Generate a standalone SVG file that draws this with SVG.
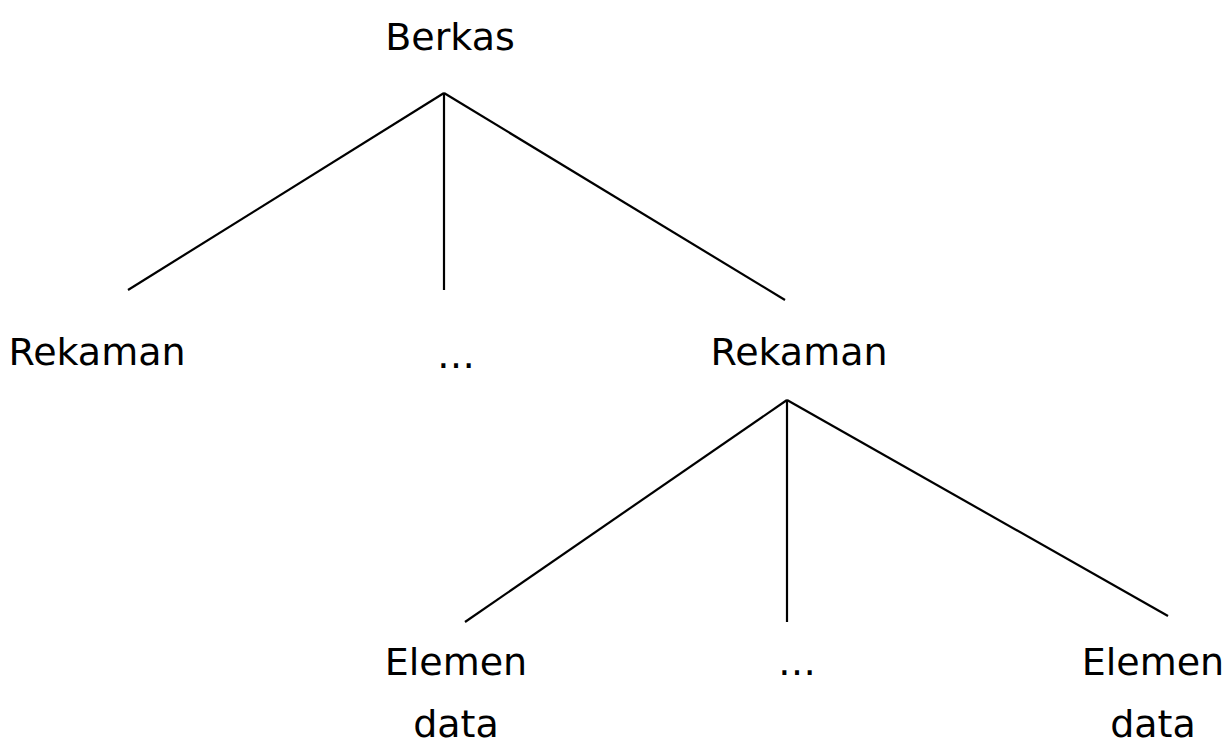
<svg xmlns="http://www.w3.org/2000/svg" width="1229" height="749" viewBox="0 0 1229 749">
<style>
text{font-family:"Comic Sans MS","DejaVu Sans",sans-serif;font-size:38px;fill:#000;text-anchor:middle}
.c line{stroke:#000;stroke-width:2.2}
</style>
<rect width="1229" height="749" fill="#fff"/>
<g id="connectors" class="c">
<line x1="444" y1="93" x2="128" y2="290"/>
<line x1="444" y1="93" x2="444" y2="290"/>
<line x1="444" y1="93" x2="785" y2="300"/>
<line x1="787" y1="400" x2="465" y2="622"/>
<line x1="787" y1="400" x2="787" y2="622"/>
<line x1="787" y1="400" x2="1168" y2="616"/>
</g>
<g id="berkas"><text x="450" y="50">Berkas</text></g>
<g id="rekaman1"><text x="97" y="365">Rekaman</text></g>
<g id="dots1"><text x="456" y="368">…</text></g>
<g id="rekaman2"><text x="799" y="365">Rekaman</text></g>
<g id="elemen1"><text x="456" y="675">Elemen</text><text x="456" y="737">data</text></g>
<g id="dots2"><text x="797" y="675">…</text></g>
<g id="elemen2"><text x="1153" y="675">Elemen</text><text x="1153" y="737">data</text></g>
</svg>
